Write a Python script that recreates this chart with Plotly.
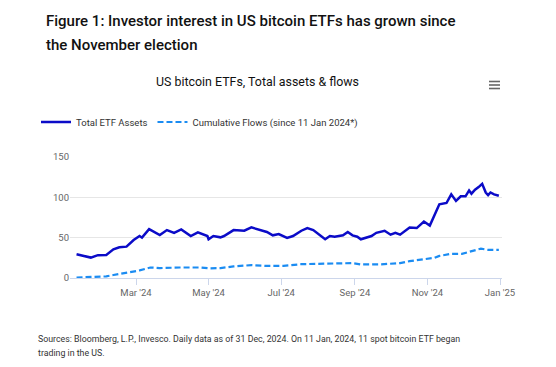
import plotly.graph_objects as go

# ---------------- data ----------------
asset_dates = [
    "2024-01-11", "2024-01-17", "2024-01-23", "2024-01-29", "2024-02-05", "2024-02-11",
    "2024-02-16", "2024-02-22", "2024-02-28", "2024-03-04", "2024-03-06", "2024-03-12",
    "2024-03-21", "2024-03-27", "2024-04-02", "2024-04-08", "2024-04-16", "2024-04-22",
    "2024-04-30", "2024-05-01", "2024-05-05", "2024-05-11", "2024-05-14", "2024-05-22",
    "2024-05-31", "2024-06-06", "2024-06-13", "2024-06-19", "2024-06-24", "2024-06-29",
    "2024-07-06", "2024-07-11", "2024-07-18", "2024-07-23", "2024-07-28", "2024-08-02",
    "2024-08-07", "2024-08-11", "2024-08-15", "2024-08-22", "2024-08-26", "2024-08-30",
    "2024-09-03", "2024-09-06", "2024-09-11", "2024-09-15", "2024-09-19", "2024-09-26",
    "2024-10-01", "2024-10-05", "2024-10-09", "2024-10-17", "2024-10-23", "2024-10-29",
    "2024-11-03", "2024-11-07", "2024-11-11", "2024-11-17", "2024-11-21", "2024-11-25",
    "2024-11-29", "2024-12-03", "2024-12-06", "2024-12-08", "2024-12-11", "2024-12-14",
    "2024-12-17", "2024-12-20", "2024-12-22", "2024-12-24", "2024-12-27", "2024-12-31",
]
total_etf_assets = [
    29.5, 27.4, 25.3, 28.3, 28.6, 35.6,
    38.1, 38.9, 47.0, 52.0, 50.0, 60.6,
    53.3, 59.4, 56.0, 60.2, 52.0, 56.6,
    52.0, 48.0, 52.0, 50.4, 52.0, 59.4,
    58.6, 62.7, 59.4, 57.0, 52.9, 54.5,
    49.6, 52.0, 58.6, 61.9, 59.4, 53.7,
    48.0, 52.0, 51.2, 52.9, 57.0, 52.9,
    51.2, 48.0, 50.4, 52.0, 56.0, 58.6,
    53.7, 56.0, 53.7, 62.7, 61.9, 70.0,
    65.0, 77.5, 91.4, 93.0, 103.7, 95.5,
    101.2, 101.2, 108.6, 104.5, 109.5, 112.7,
    116.8, 106.0, 102.8, 106.0, 103.7, 102.0,
]

flow_dates = [
    "2024-01-11", "2024-01-25", "2024-02-05", "2024-02-11", "2024-02-20", "2024-02-26",
    "2024-03-04", "2024-03-13", "2024-03-21", "2024-04-07", "2024-04-24", "2024-05-01",
    "2024-05-11", "2024-05-22", "2024-06-06", "2024-06-18", "2024-07-03", "2024-07-18",
    "2024-08-01", "2024-08-15", "2024-08-30", "2024-09-06", "2024-09-23", "2024-10-09",
    "2024-10-17", "2024-10-31", "2024-11-07", "2024-11-11", "2024-11-21", "2024-11-30",
    "2024-12-09", "2024-12-16", "2024-12-22", "2024-12-31",
]
cumulative_flows = [
    0.6, 1.0, 2.0, 3.7, 6.0, 7.0,
    9.4, 13.0, 12.3, 13.0, 13.0, 12.0,
    12.3, 14.3, 16.0, 15.0, 15.0, 17.2,
    18.0, 18.0, 18.5, 16.8, 17.0, 18.4,
    20.9, 24.1, 25.0, 27.4, 30.0, 30.0,
    33.2, 36.4, 34.8, 34.8,
]

tick_dates = ["2024-03-01", "2024-05-01", "2024-07-01", "2024-09-01", "2024-11-01", "2025-01-01"]
tick_labels = ["Mar '24", "May '24", "Jul '24", "Sep '24", "Nov '24", "Jan '25"]
y_ticks = [0, 50, 100, 150]

# ---------------- layout geometry (pixels) ----------------
W, H = 556, 367
PL, PR, PT, PB = 70, 502, 157, 278
pw, ph = PR - PL, PB - PT

def ax(x):
    return (x - PL) / pw

def ay(y):
    return (PB - y) / ph

FONT = "Roboto"

fig = go.Figure()
fig.add_trace(go.Scatter(
    x=asset_dates, y=total_etf_assets, mode="lines", name="Total ETF Assets",
    line=dict(color="#0b0bc8", width=2.5),
))
fig.add_trace(go.Scatter(
    x=flow_dates, y=cumulative_flows, mode="lines",
    name="Cumulative Flows (since 11 Jan 2024*)",
    line=dict(color="#1b8cf2", width=2.2, dash="6px,3px"),
))

fig.update_layout(
    width=W, height=H,
    margin=dict(l=PL, r=W - PR, t=PT, b=H - PB, autoexpand=False),
    paper_bgcolor="white", plot_bgcolor="white",
    font=dict(family=FONT, size=10, color="#333333"),
    showlegend=True,
    legend=dict(
        orientation="h", xref="container", yref="container",
        x=36 / W, xanchor="left", y=1 - 122 / H, yanchor="middle",
        font=dict(family=FONT, size=9.5, color="#333333"),
        bgcolor="rgba(0,0,0,0)", itemwidth=30, tracegroupgap=0,
    ),
    xaxis=dict(
        type="date",
        range=["2024-01-05 12:00", "2025-01-02 16:00"],
        tickvals=tick_dates, ticktext=tick_labels,
        ticks="outside", ticklen=6, tickcolor="#ccd6eb", tickwidth=1,
        showline=True, linecolor="#ccd6eb", linewidth=1,
        showgrid=False, zeroline=False,
        tickfont=dict(family=FONT, size=9.5, color="#666666"),
        fixedrange=True,
    ),
    yaxis=dict(
        range=[0, 150], tickvals=y_ticks,
        showgrid=True, gridcolor="#e6e6e6", gridwidth=1,
        zeroline=False, showline=False, ticks="",
        tickfont=dict(family=FONT, size=9.5, color="#666666"),
        fixedrange=True,
    ),
    hovermode="x unified",
)

annotations = [
    dict(text="Figure 1: Investor interest in US bitcoin ETFs has grown since",
         x=ax(44), y=ay(21), xanchor="left", yanchor="middle",
         font=dict(family=FONT, size=15, color="#111111", weight=500)),
    dict(text="the November election",
         x=ax(44), y=ay(45), xanchor="left", yanchor="middle",
         font=dict(family=FONT, size=15, color="#111111", weight=500)),
    dict(text="US bitcoin ETFs, Total assets & flows",
         x=ax(257), y=ay(81), xanchor="center", yanchor="middle",
         font=dict(family=FONT, size=12.4, color="#111111")),
    dict(text="Sources: Bloomberg, L.P., Invesco. Daily data as of 31 Dec, 2024. On 11 Jan, 2024, 11 spot bitcoin ETF began",
         x=ax(36), y=ay(339), xanchor="left", yanchor="middle",
         font=dict(family=FONT, size=8.8, color="#333333")),
    dict(text="trading in the US.",
         x=ax(36), y=ay(353), xanchor="left", yanchor="middle",
         font=dict(family=FONT, size=8.8, color="#333333")),
]
for a in annotations:
    a.update(xref="paper", yref="paper", showarrow=False)
fig.update_layout(annotations=annotations)

# export-menu icon (three bars)
for yy in (81.5, 85, 88.5):
    fig.add_shape(type="line", xref="paper", yref="paper",
                  x0=ax(489), x1=ax(500), y0=ay(yy), y1=ay(yy),
                  line=dict(color="#666666", width=1.6))

fig.write_html("out.html", config={"displayModeBar": False},
               post_script="document.body.style.margin='0';")
